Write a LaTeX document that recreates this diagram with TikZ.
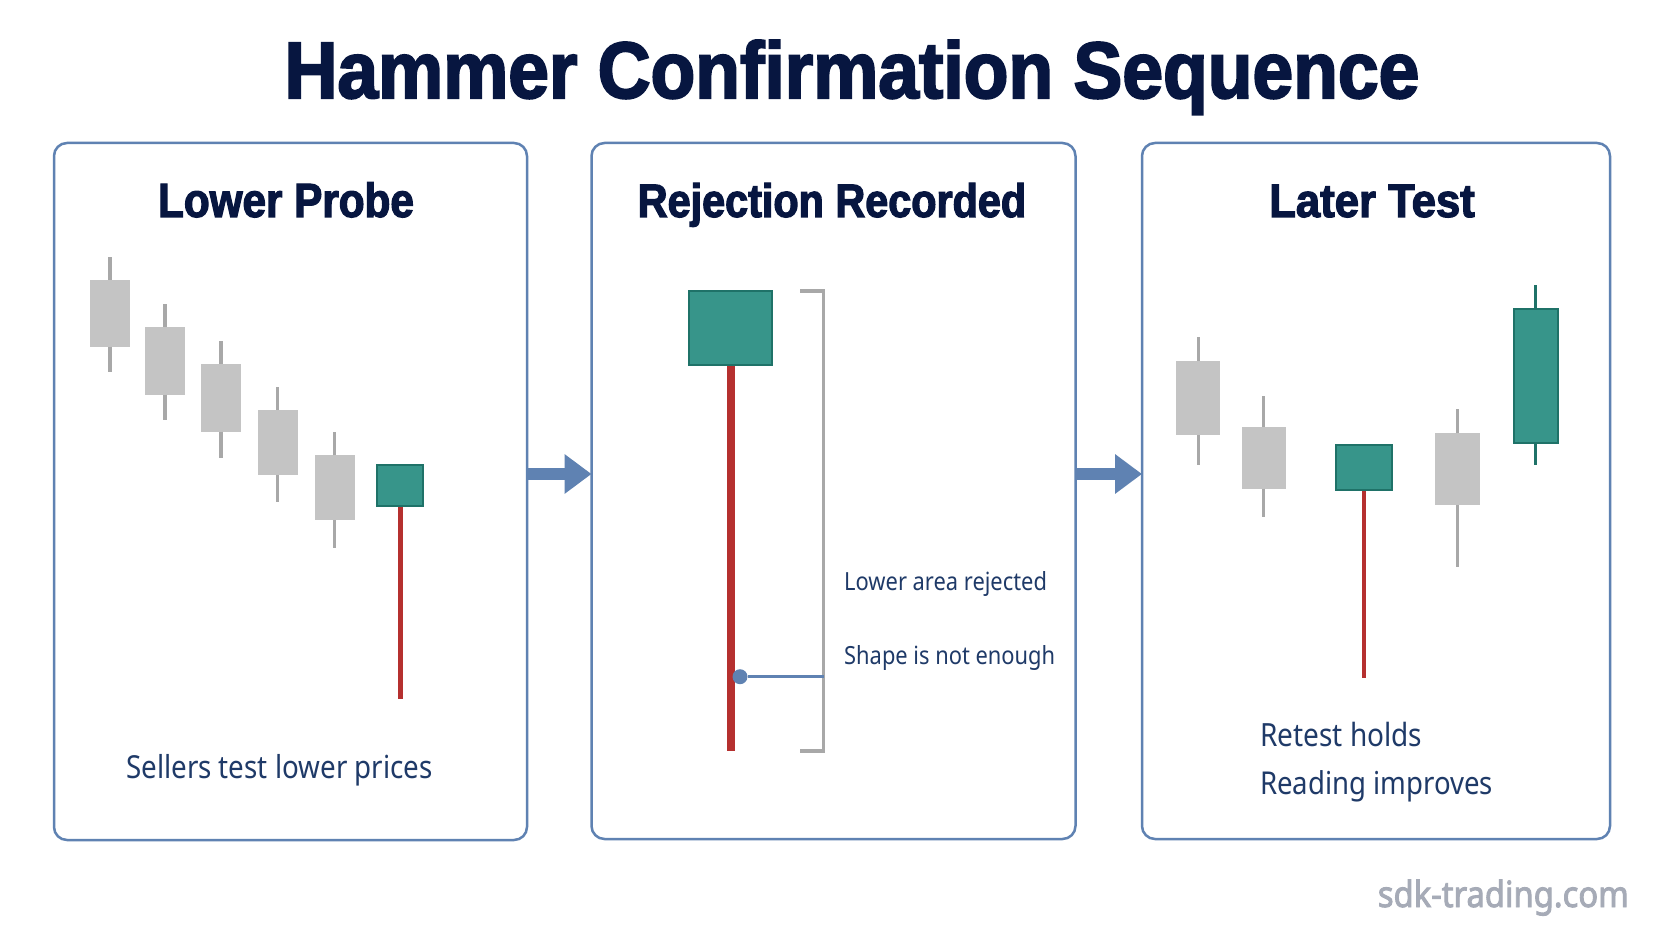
\documentclass[tikz,border=0pt]{standalone}
\usepackage{fontspec}
\usetikzlibrary{arrows.meta}
\setmainfont{Liberation Sans}
\newfontfamily\titlefont[FakeStretch=0.915,BoldFeatures={FakeBold=2.5}]{Liberation Sans}
\newfontfamily\headfont[FakeStretch=0.88,BoldFeatures={FakeBold=2.5}]{Liberation Sans}
\newfontfamily\headwide[FakeStretch=0.93,BoldFeatures={FakeBold=2.5}]{Liberation Sans}
\newfontfamily\bodyfont[FakeStretch=0.875]{Noto Sans}
\newfontfamily\sitefont[FakeStretch=0.91,FakeBold=2.5]{Noto Sans}
\definecolor{titleink}{HTML}{071640}
\definecolor{bodyink}{HTML}{1F3A68}
\definecolor{frameblue}{HTML}{5F82B2}
\definecolor{tealfill}{HTML}{37958A}
\definecolor{tealedge}{HTML}{1F7268}
\definecolor{grayfill}{HTML}{C4C4C4}
\definecolor{graystem}{HTML}{A8A8A8}
\definecolor{redstem}{HTML}{B5302F}
\definecolor{siteink}{HTML}{A6ABB7}
\tikzset{
  panel/.style={draw=frameblue, line width=2.5pt, rounded corners=13pt, inner sep=0, outer sep=0},
  graybody/.style={fill=grayfill, inner sep=0, outer sep=0},
  graywick/.style={draw=graystem, line width=3.5pt},
  tealbody/.style={fill=tealfill, draw=tealedge, line width=2pt, inner sep=0, outer sep=0},
  tealwick/.style={draw=tealedge, line width=3pt},
  flow/.style={draw=frameblue, line width=12pt, -{Triangle[length=27pt,width=38pt,fill=frameblue]}},
  heading/.style={text=titleink, inner sep=0, anchor=base},
  note/.style={text=bodyink, inner sep=0, anchor=base west},
}
% name, kind, x, body top, body bottom, wick top, wick bottom, width
\newcommand{\candle}[8]{
  \node[#2body, minimum width=#8, minimum height={#5-#4}] (#1) at (#3,{(#4+#5)/2}) {};
  \coordinate (#1hi) at (#3,#6);
  \coordinate (#1lo) at (#3,#7);
  \draw[#2wick] (#1.north) -- (#1hi);
  \draw[#2wick] (#1.south) -- (#1lo);
}
% name, wick x, body x, body top, body bottom, wick bottom, width, wick width
\newcommand{\hammer}[8]{
  \coordinate (#1lo) at (#2,#6);
  \draw[draw=redstem, line width=#8] (#2,#5) -- (#1lo);
  \node[tealbody, minimum width=#7, minimum height={#5-#4}] (#1) at (#3,{(#4+#5)/2}) {};
}

\begin{document}
\begin{tikzpicture}[x=1pt, y=-1pt]
  \path[use as bounding box, fill=white] (0,0) rectangle (1672,941);

  \node[text=titleink, inner sep=0, anchor=base, font=\titlefont\bfseries\fontsize{80}{80}\selectfont] (title) at (852,98) {Hammer Confirmation Sequence};

  \node[panel, minimum width=473, minimum height=697] (probe) at (290.5,491.5) {};
  \node[panel, minimum width=484, minimum height=696] (reject) at (833.5,491) {};
  \node[panel, minimum width=468, minimum height=696] (later) at (1376,491) {};

  \coordinate (level) at (0,474);
  \draw[flow] (probe.east |- level) -- (reject.west |- level);
  \draw[flow] (reject.east |- level) -- (later.west |- level);

  \node[heading, font=\headfont\bfseries\fontsize{48}{48}\selectfont] (probehead) at (286,217) {Lower Probe};
  \node[heading, font=\headfont\bfseries\fontsize{47}{47}\selectfont] (rejecthead) at (832,217) {Rejection Recorded};
  \node[heading, font=\headwide\bfseries\fontsize{47}{47}\selectfont] (laterhead) at (1372,217) {Later Test};

  % first panel
  \candle{a}{gray}{110}{279.5}{346.7}{256.7}{372}{40}
  \candle{b}{gray}{165}{326.7}{394.7}{304}{420}{40}
  \candle{c}{gray}{221}{363.7}{431.7}{340.7}{457.7}{40}
  \candle{d}{gray}{277.5}{409.7}{475.3}{386.7}{501.7}{40}
  \candle{e}{gray}{334.7}{455.3}{520.3}{432}{547.7}{40}
  \hammer{f}{400.5}{399.5}{465}{506}{699.3}{46}{4.5}
  \node[note, font=\bodyfont\fontsize{31.7}{32}\selectfont] (sellers) at (126,778) {Sellers test lower prices};

  % second panel
  \hammer{big}{731}{730}{291}{365}{751}{83}{7.5}
  \coordinate (brtop) at (800,291);
  \coordinate (brlow) at (800,751);
  \coordinate (brside) at (823.5,500);
  \draw[draw=graystem, line width=3.5pt] (brtop) -| (brside) |- (brlow);
  \node[circle, fill=frameblue, inner sep=0, minimum size=15] (pin) at (740,676.7) {};
  \draw[draw=frameblue, line width=2.5pt] (pin) -- (pin -| brside);
  \node[note, font=\bodyfont\fontsize{25}{25}\selectfont] (rejected) at (844,590.7) {Lower area rejected};
  \node[note, font=\bodyfont\fontsize{25}{25}\selectfont] (enough) at (844,664) {Shape is not enough};

  % third panel
  \candle{g}{gray}{1198.4}{360.7}{435}{337}{465.3}{44}
  \candle{h}{gray}{1263.7}{427}{488.7}{395.7}{516.7}{44}
  \hammer{i}{1364}{1364}{445}{490}{678}{56}{4.5}
  \candle{j}{gray}{1457.5}{433.3}{505}{409.3}{566.7}{45}
  \candle{k}{teal}{1535.5}{308.5}{442.5}{285.3}{465.3}{44}
  \node[note, font=\bodyfont\fontsize{32}{32}\selectfont] (retest) at (1260,746.7) {Retest holds};
  \node[note, font=\bodyfont\fontsize{31.5}{32}\selectfont] (improves) at (1260,794) {Reading improves};

  \node[text=siteink, inner sep=0, anchor=base east, font=\sitefont\fontsize{36}{36}\selectfont] (site) at (1629,907) {sdk-trading.com};
\end{tikzpicture}
\end{document}
